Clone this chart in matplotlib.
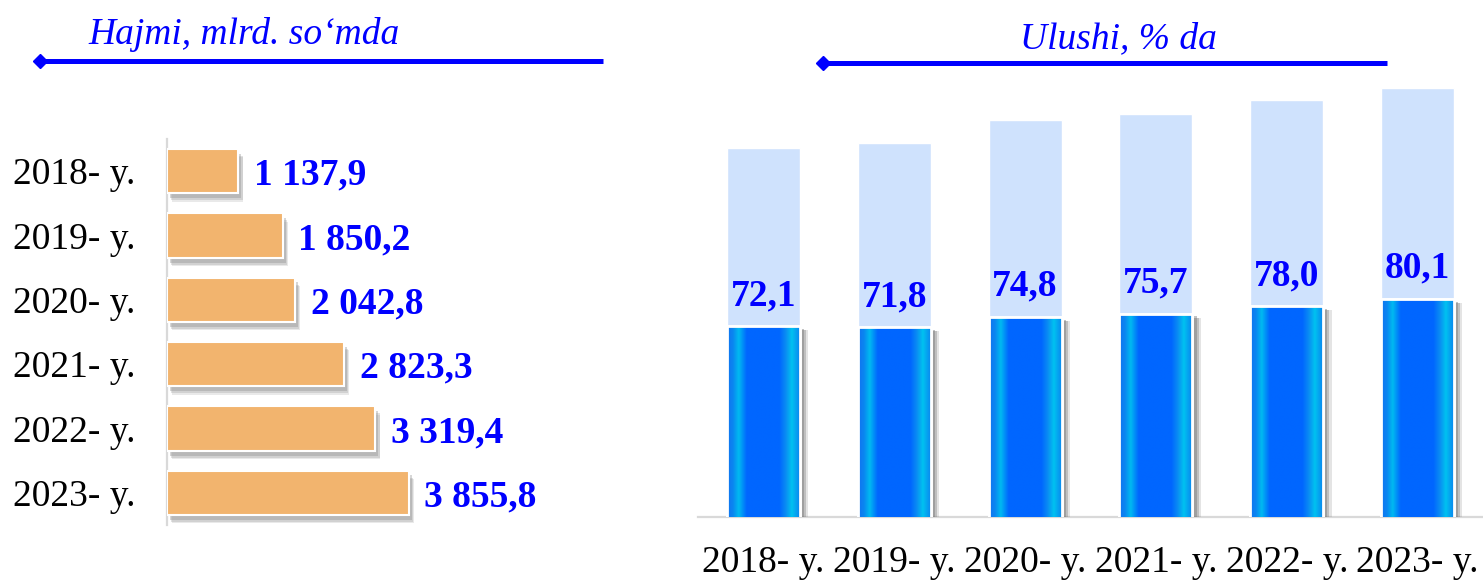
import numpy as np
import matplotlib
matplotlib.use("Agg")
import matplotlib.pyplot as plt
import matplotlib.patheffects as pe
from matplotlib.colors import LinearSegmentedColormap
from matplotlib.lines import Line2D

# ---------------- data ----------------
years = ["2018- y.", "2019- y.", "2020- y.", "2021- y.", "2022- y.", "2023- y."]
volume = [1137.9, 1850.2, 2042.8, 2823.3, 3319.4, 3855.8]          # mlrd. so'm
volume_labels = ["1 137,9", "1 850,2", "2 042,8", "2 823,3", "3 319,4", "3 855,8"]
share = [72.1, 71.8, 74.8, 75.7, 78.0, 80.1]                         # %
share_labels = ["72,1", "71,8", "74,8", "75,7", "78,0", "80,1"]
share_bg = [124.5, 126.0, 132.7, 134.4, 138.6, 142.0]                # decorative background columns
left_title = "Hajmi, mlrd. so\u2018mda"
right_title = "Ulushi, % da"

# ---------------- style ----------------
W, H = 1483, 580
DPI = 100
FONT = "Liberation Serif"
FS = 27
BLUE = "#0000FF"
ORANGE = "#F2B46E"
LIGHT = "#CFE2FD"
GRID = "#D9D9D9"

plt.rcParams["font.family"] = [FONT, "DejaVu Serif"]

fig = plt.figure(figsize=(W / DPI, H / DPI), dpi=DPI)
fig.patch.set_facecolor("white")


def fx(px):
    return px / W


def fy(py):
    return 1 - py / H


# ---------------- left panel ----------------
L_left, L_right, L_top, L_bot = 167, 640, 139, 525
PX_PER_VOL = 0.0628
axL = fig.add_axes([fx(L_left), fy(L_bot), fx(L_right - L_left), (L_bot - L_top) / H])
ypos = np.arange(len(years))
shadowL = [pe.SimplePatchShadow(offset=(3.5, -6), shadow_rgbFace="#8a8a8a", alpha=0.18),
           pe.SimplePatchShadow(offset=(3, -5), shadow_rgbFace="#8a8a8a", alpha=0.25),
           pe.SimplePatchShadow(offset=(2, -3.5), shadow_rgbFace="#8a8a8a", alpha=0.35),
           pe.Normal()]
bars = axL.barh(ypos, volume, height=0.69, color=ORANGE, edgecolor="white",
                linewidth=1.5, zorder=3)
for b in bars:
    b.set_path_effects(shadowL)
axL.set_xlim(0, (L_right - L_left) / PX_PER_VOL)
axL.set_ylim(len(years) - 0.5, -0.5)
axL.set_yticks(ypos, years)
axL.set_xticks([])
axL.tick_params(axis="y", length=0, pad=23, labelsize=FS)
for lab in axL.get_yticklabels():
    lab.set_fontfamily(FONT)
for s in ["top", "right", "bottom"]:
    axL.spines[s].set_visible(False)
axL.spines["left"].set_color(GRID)
axL.spines["left"].set_linewidth(1.6)
axL.set_facecolor("none")
for v, lab, y in zip(volume, volume_labels, ypos):
    axL.annotate(lab, (v, y), xytext=(11, 0), textcoords="offset points",
                 ha="left", va="center_baseline", fontsize=FS, fontweight="bold",
                 color=BLUE, fontfamily=FONT, annotation_clip=False)

# ---------------- right panel ----------------
R_left, R_right, R_top, R_bot = 698, 1483, 80, 516.7
PX_PER_PCT = 3.4
Y0 = 16.0
axR = fig.add_axes([fx(R_left), fy(R_bot), fx(R_right - R_left), (R_bot - R_top) / H])
xpos = np.arange(len(years))
bw = 0.557
ytop = Y0 + (R_bot - R_top) / PX_PER_PCT
axR.bar(xpos, share_bg, width=bw, color=LIGHT, edgecolor="white", linewidth=1, zorder=1)
shadowR = [pe.SimplePatchShadow(offset=(6, -3), shadow_rgbFace="#7a7a7a", alpha=0.2),
           pe.SimplePatchShadow(offset=(4.5, -3), shadow_rgbFace="#7a7a7a", alpha=0.35),
           pe.SimplePatchShadow(offset=(3, -2), shadow_rgbFace="#7a7a7a", alpha=0.45),
           pe.Normal()]
base = axR.bar(xpos, share, width=bw, color="#0066FF", edgecolor="white", linewidth=2, zorder=2)
for b in base:
    b.set_path_effects(shadowR)

grad_cmap = LinearSegmentedColormap.from_list(
    "barGrad",
    [(0.0, "#1273F2"), (0.08, "#0a86f0"), (0.16, "#00BAF0"), (0.27, "#0066FF"),
     (0.72, "#0066FF"), (0.81, "#0a8ef2"), (0.89, "#00C2F0"), (1.0, "#0a86f0")])
grad = np.linspace(0, 1, 256)[np.newaxis, :]
for b in base:
    x0, w, h = b.get_x(), b.get_width(), b.get_height()
    im = axR.imshow(grad, extent=(x0, x0 + w, Y0, h), cmap=grad_cmap, aspect="auto",
                    zorder=3, interpolation="bilinear")
    im.set_clip_path(b)
axR.bar(xpos, share, width=bw, facecolor="none", edgecolor="white", linewidth=2, zorder=4)

axR.set_xlim(-0.5, len(years) - 0.5)
axR.set_ylim(Y0, ytop)
axR.set_yticks([])
axR.set_xticks(xpos, years)
axR.tick_params(axis="x", length=0, pad=21, labelsize=FS)
for lab in axR.get_xticklabels():
    lab.set_fontfamily(FONT)
for s in ["top", "right", "left"]:
    axR.spines[s].set_visible(False)
axR.spines["bottom"].set_color(GRID)
axR.spines["bottom"].set_linewidth(1.6)
axR.spines["bottom"].set_zorder(0)
axR.set_facecolor("none")
for x, v, lab in zip(xpos, share, share_labels):
    axR.annotate(lab, (x, v), xytext=(0, 15), textcoords="offset points",
                 ha="center", va="baseline", fontsize=FS, fontweight="bold",
                 color=BLUE, fontfamily=FONT, zorder=5)

# ---------------- headers with diamond-tipped lines ----------------
def header(text, tx, ty, lx0, lx1, ly):
    fig.text(fx(tx), fy(ty), text, fontsize=FS, fontstyle="italic", color=BLUE,
             fontfamily=FONT, ha="left", va="baseline")
    fig.add_artist(Line2D([fx(lx0), fx(lx1)], [fy(ly), fy(ly)], color=BLUE,
                          linewidth=3.6, solid_capstyle="butt", transform=fig.transFigure))
    fig.add_artist(Line2D([fx(lx0)], [fy(ly)], marker="D", markersize=7, color=BLUE,
                          linestyle="none", transform=fig.transFigure))

header(left_title, 88, 44, 40, 603, 61)
header(right_title, 1020, 48, 823, 1387, 63)

fig.savefig("out.png", dpi=DPI, facecolor="white")
